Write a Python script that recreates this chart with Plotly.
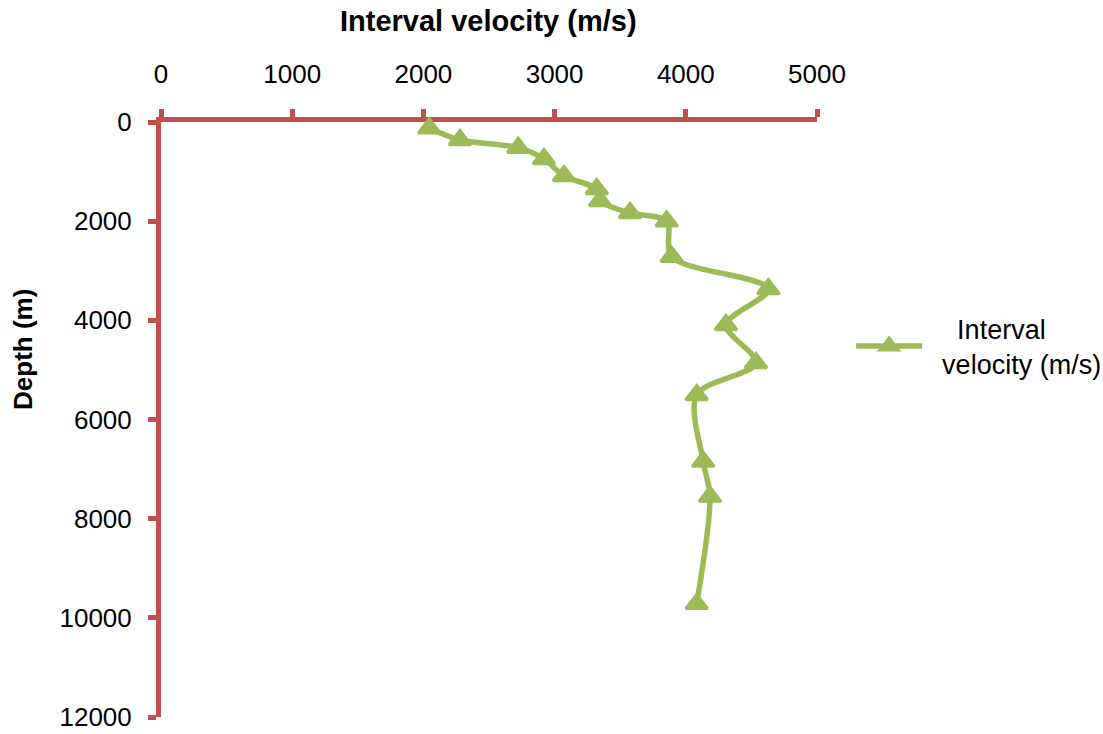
import plotly.graph_objects as go

# Interval velocity profile versus depth
velocity = [2045, 2279, 2723, 2919, 3072, 3321, 3346, 3575, 3854, 3892,
            4629, 4306, 4535, 4083, 4133, 4184, 4083]
depth = [127, 363, 518, 746, 1089, 1351, 1593, 1835, 2000, 2716,
         3367, 4093, 4859, 5504, 6849, 7554, 9718]

x_ticks = [0, 1000, 2000, 3000, 4000, 5000]
y_ticks = [0, 2000, 4000, 6000, 8000, 10000, 12000]

GREEN = "#9BBB59"
RED = "#C0504D"
FONT = "Liberation Sans, Arial, sans-serif"

fig = go.Figure()
fig.add_trace(go.Scatter(
    x=velocity,
    y=depth,
    mode="lines+markers",
    name="\u00a0\u00a0\u00a0\u00a0Interval<br>\u00a0\u00a0velocity (m/s)",
    line=dict(color=GREEN, width=5.5, shape="spline", smoothing=0.9),
    marker=dict(symbol="triangle-up", size=19, color=GREEN,
                line=dict(color=GREEN, width=3)),
    cliponaxis=False,
))

fig.update_layout(
    template="none",
    width=1103,
    height=734,
    margin=dict(l=161, r=286, t=122, b=17, autoexpand=False),
    paper_bgcolor="white",
    plot_bgcolor="white",
    font=dict(family=FONT, color="black", size=26),
    showlegend=True,
    legend=dict(
        x=1.052, y=0.623, xanchor="left", yanchor="middle",
        itemwidth=66,
        font=dict(family=FONT, size=27, color="black"),
        bgcolor="rgba(0,0,0,0)",
    ),
    xaxis=dict(
        side="top",
        range=[0, 5000],
        tickvals=x_ticks,
        ticktext=[str(v) for v in x_ticks],
        showgrid=False,
        zeroline=False,
        automargin=False,
        showline=True,
        linecolor=RED,
        linewidth=5,
        ticks="outside",
        ticklen=8,
        tickwidth=5,
        tickcolor=RED,
        ticklabelstandoff=16,
        tickfont=dict(family=FONT, size=26, color="black"),
        layer="below traces",
    ),
    yaxis=dict(
        range=[12000, 0],
        tickvals=y_ticks,
        ticktext=[str(v) for v in y_ticks],
        showgrid=False,
        zeroline=False,
        automargin=False,
        showline=True,
        linecolor=RED,
        linewidth=5,
        ticks="outside",
        ticklen=8,
        tickwidth=5,
        tickcolor=RED,
        ticklabelstandoff=11,
        tickfont=dict(family=FONT, size=26, color="black"),
        layer="below traces",
    ),
    annotations=[
        dict(text="<b>Interval velocity (m/s)</b>", xref="paper", yref="paper",
             x=0.4985, y=1.1697, xanchor="center", yanchor="middle",
             showarrow=False, font=dict(family=FONT, size=29, color="black")),
        dict(text="<b>Depth (m)</b>", xref="paper", yref="paper",
             x=-0.2104, y=0.6185, xanchor="center", yanchor="middle",
             textangle=-90, showarrow=False,
             font=dict(family=FONT, size=26, color="black")),
    ],
)

fig.write_html("out.html")
